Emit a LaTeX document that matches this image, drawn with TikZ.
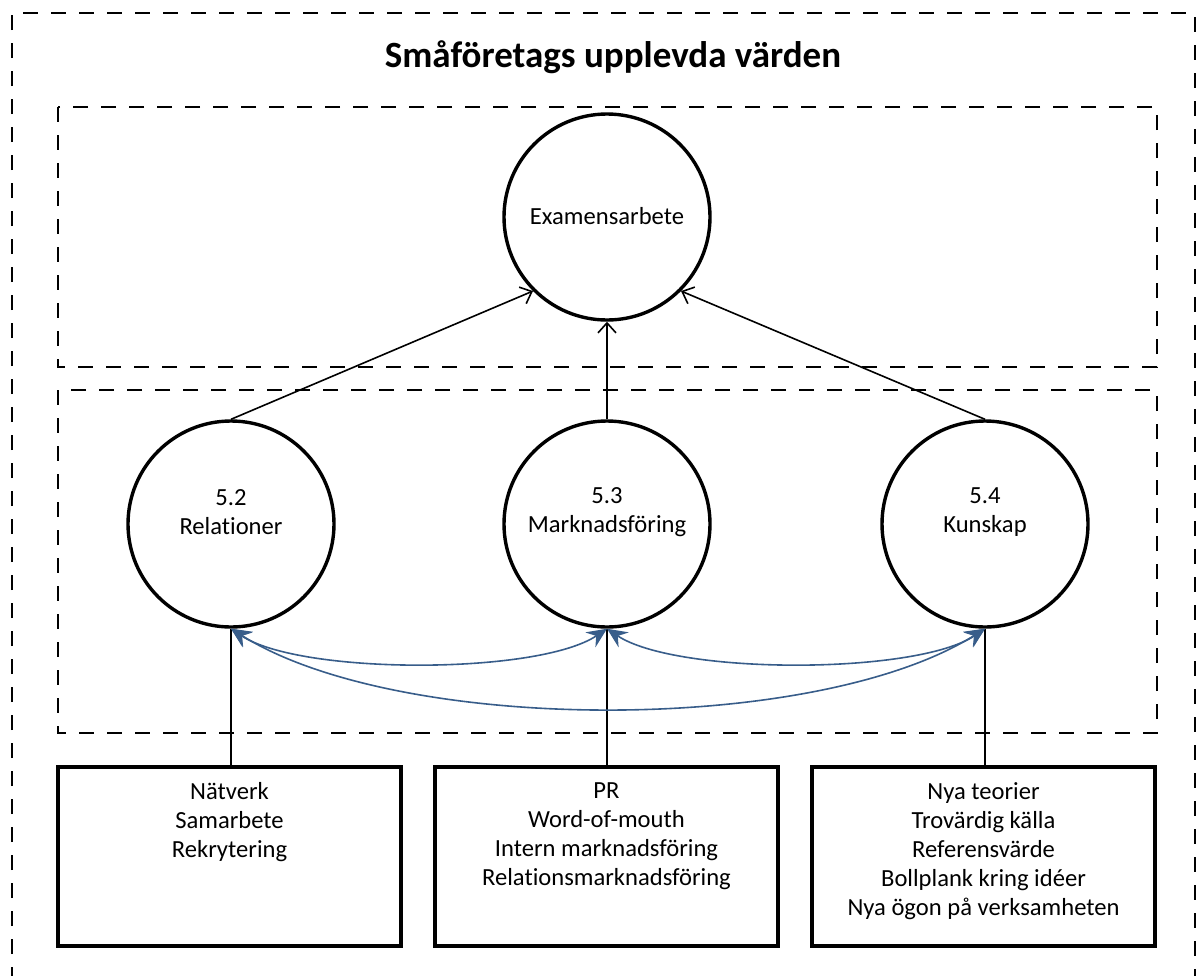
\documentclass[tikz,border=0pt]{standalone}
\usepackage{fontspec}
\setmainfont{Carlito}[Ligatures=NoCommon]
\usetikzlibrary{arrows.meta}
\definecolor{arrowblue}{RGB}{56,93,138}
\begin{document}
\begin{tikzpicture}[x=0.5pt,y=-0.5pt,
  dashframe/.style={draw, line width=1.4pt, dash pattern=on 7.5pt off 6.5pt},
  circ/.style={circle, draw, line width=1.7pt, minimum size=103pt, inner sep=0pt},
  itembox/.style={draw, line width=1.7pt, minimum width=171.5pt, minimum height=89.5pt, inner sep=0pt},
  lbl/.style={font=\fontsize{12.3}{14.5}\selectfont, align=center, inner sep=0pt},
  titlefont/.style={font=\fontsize{18.5}{22}\selectfont\bfseries},
  uparrow/.style={-{Straight Barb[length=5pt,width=9pt,line width=0.8pt]}, line width=0.8pt},
  plainline/.style={line width=0.8pt},
  bluearc/.style={{Stealth[length=10pt,width=9pt,inset=3.5pt]}-{Stealth[length=10pt,width=9pt,inset=3.5pt]}, draw=arrowblue, fill=none, line width=0.8pt, arrowblue}
]
\useasboundingbox (0,0) rectangle (1198,975);
\begin{scope}
\clip (0,0) rectangle (1198,975);
\draw[dashframe] (12,1010) -- (12,13) -- (1195,13) -- (1195,1010);
\end{scope}

\node[titlefont] (title) at (613,57) {Småföretags upplevda värden};

\draw[dashframe] (58,107) rectangle (1157,367);
\draw[dashframe] (58,390) rectangle (1157,733);

\node[circ] (exam) at (607,217) {};
\node[lbl] (examt) at (607,216) {Examensarbete};

\node[circ] (r52) at (231,524) {};
\node[circ] (r53) at (607,524) {};
\node[circ] (r54) at (985,524) {};
\node[lbl] (t52) at (231,512) {5.2\\Relationer};
\node[lbl] (t53) at (607,512) {5.3\\Marknadsföring};
\node[lbl] (t54) at (985,512) {5.4\\Kunskap};

\node[itembox] (b1) at (229.5,856.5) {};
\node[itembox] (b2) at (606.5,856.5) {};
\node[itembox] (b3) at (983.5,856.5) {};
\node[lbl, anchor=north] (bt1) at (229.5,782) {Nätverk\\Samarbete\\Rekrytering};
\node[lbl, anchor=north] (bt2) at (606.5,782) {PR\\Word-of-mouth\\Intern marknadsföring\\Relationsmarknadsföring};
\node[lbl, anchor=north] (bt3) at (983.5,782) {Nya teorier\\Trovärdig källa\\Referensvärde\\Bollplank kring idéer\\Nya ögon på verksamheten};

\draw[uparrow] (r52.north) -- (exam.south west);
\draw[uparrow] (r53.north) -- (exam.south);
\draw[uparrow] (r54.north) -- (exam.south east);

\draw[plainline] (r52.south |- b1.north) -- (r52.south);
\draw[plainline] (r53.south |- b2.north) -- (r53.south);
\draw[plainline] (r54.south |- b3.north) -- (r54.south);

\draw[bluearc] (r52.south) .. controls (300,675) and (538,675) .. (r53.south);
\draw[bluearc] (r53.south) .. controls (676,675) and (916,675) .. (r54.south);
\draw[bluearc] (r52.south) .. controls (400,735) and (816,735) .. (r54.south);
\end{tikzpicture}
\end{document}
